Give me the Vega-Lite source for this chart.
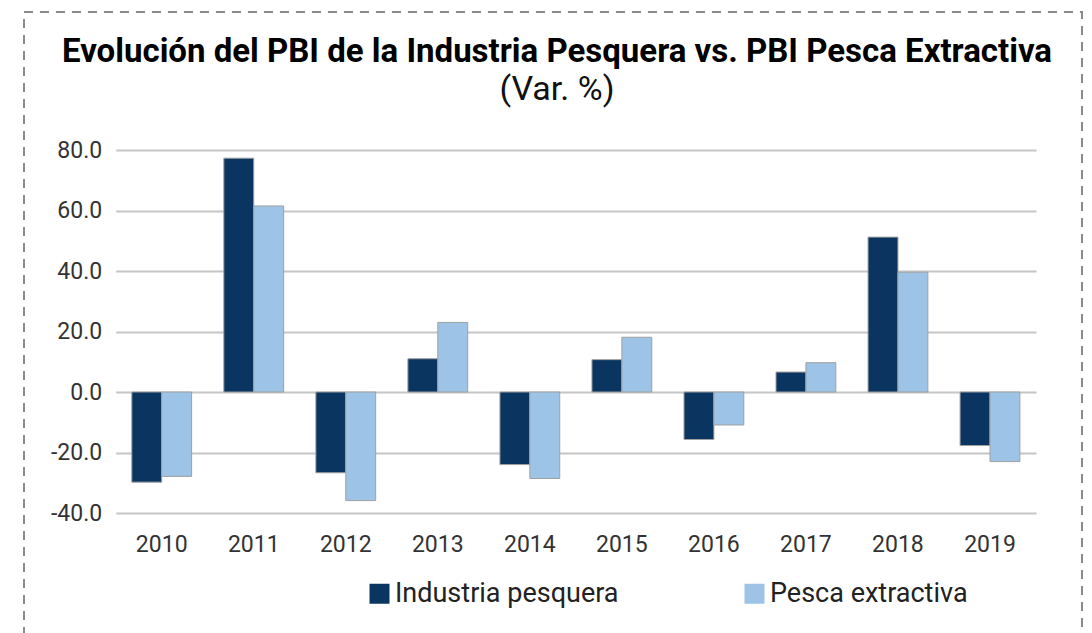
{
  "$schema": "https://vega.github.io/schema/vega-lite/v6.json",
  "width": 1058,
  "height": 630,
  "autosize": {"type": "none"},
  "padding": {"left": 24, "top": 12, "right": 10, "bottom": 0},
  "background": "white",
  "title": {
    "text": "Evolución del PBI de la Industria Pesquera vs. PBI Pesca Extractiva",
    "subtitle": "(Var. %)",
    "anchor": "middle",
    "frame": "group",
    "offset": -95,
    "dx": 4,
    "font": "Roboto",
    "fontSize": 33,
    "fontWeight": "bold",
    "color": "#000000",
    "subtitleFont": "Roboto",
    "subtitleFontSize": 34,
    "subtitleColor": "#111111",
    "subtitlePadding": 4,
    "limit": 1100
  },
  "data": {
    "values": [
      {"year": "2010", "serie": "Industria pesquera", "value": -29.8},
      {"year": "2010", "serie": "Pesca extractiva", "value": -27.9},
      {"year": "2011", "serie": "Industria pesquera", "value": 77.3},
      {"year": "2011", "serie": "Pesca extractiva", "value": 61.5},
      {"year": "2012", "serie": "Industria pesquera", "value": -26.7},
      {"year": "2012", "serie": "Pesca extractiva", "value": -35.9},
      {"year": "2013", "serie": "Industria pesquera", "value": 11.0},
      {"year": "2013", "serie": "Pesca extractiva", "value": 23.0},
      {"year": "2014", "serie": "Industria pesquera", "value": -24.0},
      {"year": "2014", "serie": "Pesca extractiva", "value": -28.6},
      {"year": "2015", "serie": "Industria pesquera", "value": 10.7},
      {"year": "2015", "serie": "Pesca extractiva", "value": 18.1},
      {"year": "2016", "serie": "Industria pesquera", "value": -15.7},
      {"year": "2016", "serie": "Pesca extractiva", "value": -10.9},
      {"year": "2017", "serie": "Industria pesquera", "value": 6.6},
      {"year": "2017", "serie": "Pesca extractiva", "value": 9.7},
      {"year": "2018", "serie": "Industria pesquera", "value": 51.2},
      {"year": "2018", "serie": "Pesca extractiva", "value": 39.6},
      {"year": "2019", "serie": "Industria pesquera", "value": -17.7},
      {"year": "2019", "serie": "Pesca extractiva", "value": -23.0}
    ]
  },
  "mark": {"type": "bar", "stroke": "#a0a0a0", "strokeWidth": 1},
  "encoding": {
    "x": {
      "field": "year",
      "type": "nominal",
      "scale": {"range": [91.7, 1012], "paddingInner": 0.35, "paddingOuter": 0.175},
      "axis": {
        "title": null,
        "labelAngle": 0,
        "domain": false,
        "ticks": false,
        "tickSize": 0,
        "grid": false,
        "offset": -129,
        "labelPadding": 20,
        "labelFont": "Roboto",
        "labelFontSize": 23,
        "labelColor": "#333333"
      }
    },
    "xOffset": {"field": "serie", "sort": ["Industria pesquera", "Pesca extractiva"]},
    "y": {
      "field": "value",
      "type": "quantitative",
      "scale": {"domain": [-40, 80], "range": [501, 138], "nice": false, "zero": false},
      "axis": {
        "title": null,
        "values": [-40, -20, 0, 20, 40, 60, 80],
        "format": ".1f",
        "labelExpr": "replace(datum.label, '−', '-')",
        "domain": false,
        "ticks": false,
        "tickSize": 0,
        "offset": -91.7,
        "labelPadding": 14,
        "grid": true,
        "gridColor": "#c6c6c6",
        "gridWidth": 2,
        "labelFont": "Roboto",
        "labelFontSize": 23,
        "labelColor": "#333333"
      }
    },
    "color": {
      "field": "serie",
      "type": "nominal",
      "scale": {"domain": ["Industria pesquera", "Pesca extractiva"], "range": ["#0b3561", "#9dc3e6"]},
      "legend": {
        "title": null,
        "orient": "none",
        "legendX": 342,
        "legendY": 568,
        "direction": "horizontal",
        "symbolType": "square",
        "symbolSize": 400,
        "symbolStrokeWidth": 0,
        "labelFont": "Roboto",
        "labelFontSize": 27,
        "labelColor": "#222222",
        "labelOffset": 2,
        "labelLimit": 400,
        "columnPadding": 122,
        "padding": 0
      }
    }
  },
  "config": {
    "view": {"stroke": "#8a8a8a", "strokeWidth": 2, "strokeDash": [9, 7], "fill": "white"}
  }
}
